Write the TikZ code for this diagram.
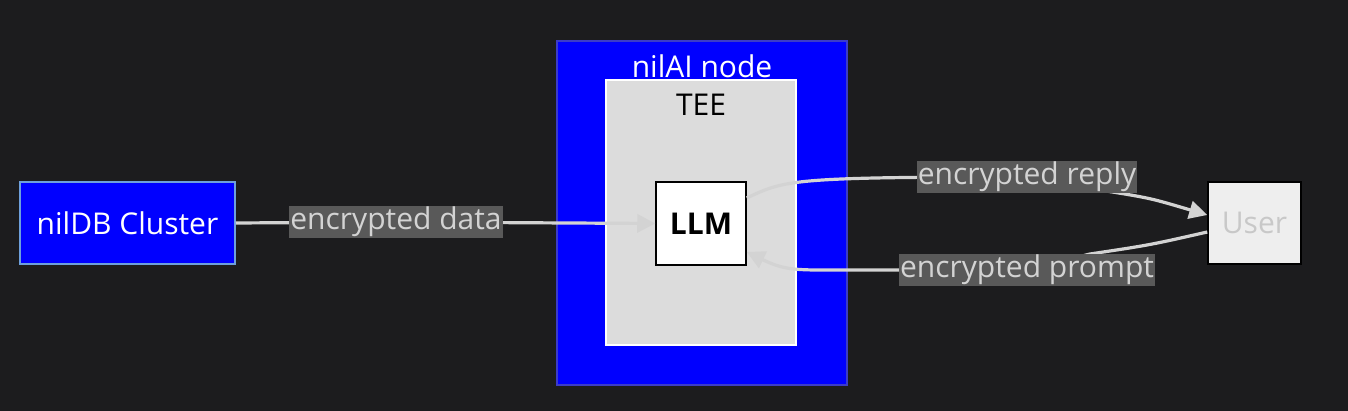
\documentclass[tikz,border=0pt]{standalone}
\usepackage{fontspec}
\setmainfont{Open Sans}
\usetikzlibrary{arrows.meta}
\pgfdeclarelayer{front}
\pgfsetlayers{main,front}
\definecolor{bg}{RGB}{28,28,30}
\definecolor{edge}{RGB}{211,211,211}
\definecolor{lblbg}{RGB}{89,89,89}
\definecolor{teefill}{RGB}{220,220,220}
\definecolor{userfill}{RGB}{238,238,238}
\definecolor{usertxt}{RGB}{200,200,200}
\definecolor{dbborder}{RGB}{110,160,220}
\definecolor{aiborder}{RGB}{60,60,200}
\begin{document}
\begin{tikzpicture}[x=1pt,y=-1pt,
  box/.style={draw,line width=1.5pt,inner sep=0pt},
  lbl/.style={fill=lblbg,text=edge,inner sep=1pt,font=\fontsize{30}{33}\selectfont},
  conn/.style={draw=edge,line width=3.2pt,-{Triangle[length=18pt,width=18pt]}},
  connplain/.style={draw=edge,line width=3.2pt}]
\fill[bg] (0,0) rectangle (1348,411);
\node[box,draw=aiborder,fill=blue,minimum width=290pt,minimum height=344pt] (ai) at (702,213) {};
\node[text=white,font=\fontsize{30}{33}\selectfont] (aititle) at (702,66) {nilAI node};
\node[box,draw=white,fill=teefill,minimum width=190pt,minimum height=265pt] (tee) at (701,212.5) {};
\node[text=black,font=\fontsize{30}{33}\selectfont] (teetitle) at (701,105) {TEE};
\node[box,draw=black,fill=white,minimum width=90pt,minimum height=83pt,font=\bfseries\fontsize{30}{33}\selectfont] (llm) at (701,223.5) {LLM};
\node[box,draw=dbborder,fill=blue,text=white,minimum width=215pt,minimum height=82pt,font=\fontsize{30}{33}\selectfont] (db) at (127.5,223) {nilDB Cluster};
\node[box,draw=black,fill=userfill,text=usertxt,minimum width=93pt,minimum height=82pt,font=\fontsize{30}{33}\selectfont] (user) at (1254.5,223) {User};
\begin{pgfonlayer}{front}
\node[lbl] (ld) at (396,222) {encrypted data};
\node[lbl] (lr) at (1027,177) {encrypted reply};
\node[lbl] (lp) at (1027,270) {encrypted prompt};
\end{pgfonlayer}
\draw[connplain] (db.east) -- (ld.center);
\draw[conn] (ld.center) -- (llm.west);
\draw[connplain] (llm.east |- 0,198) .. controls (785,180) and (790,177) .. (lr.center);
\draw[conn] (lr.center) -- (1100,190) .. controls (1150,198) .. (user.west |- 0,215);
\draw[connplain] (user.west |- 0,232) .. controls (1150,245) .. (1090,254) -- (lp.center);
\draw[conn] (lp.center) -- (820,270) .. controls (790,270) and (780,268) .. (llm.east |- 0,252);
\end{tikzpicture}
\end{document}
